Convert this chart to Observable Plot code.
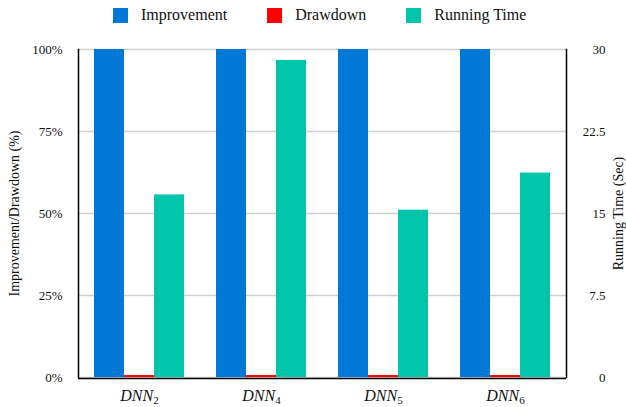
<!DOCTYPE html>
<html><head><meta charset="utf-8">
<script src="https://cdn.jsdelivr.net/npm/d3@7"></script>
<script src="https://cdn.jsdelivr.net/npm/@observablehq/plot@0.6"></script>
<style>
body{margin:0;background:#fff;font-family:"Liberation Serif","Times New Roman",serif;}
#legend{position:relative;height:30px;display:flex;align-items:center;padding-left:113px;box-sizing:border-box;font-size:16px;color:#111;}
#legend .item{display:flex;align-items:center;margin-right:40px;}
#legend .sw{width:15px;height:15px;margin-right:13px;}
svg{font-family:"Liberation Serif","Times New Roman",serif !important;}
svg g[aria-label="y-axis label"] text{font-size:14px;}
</style></head><body>
<div id="legend"></div><div id="chart"></div>
<script>
const models = ["DNN2","DNN4","DNN5","DNN6"];
const series = ["Improvement","Drawdown","Running Time"];
const colors = ["#0079d6","#ff0000","#00c5ab"];
const improvement = [100,100,100,100];
const drawdown = [0.6,0.6,0.6,0.6];
const runningTime = [16.7,29.0,15.3,18.7];
const leftTicks = [0,25,50,75,100];
const rightTicks = [0,7.5,15,22.5,30];
const rightMax = 30;
const serifFont = '"Liberation Serif","Times New Roman",serif';

const rows = models.flatMap((m,i)=>[
  {model:m, series:"Improvement", value: improvement[i]/100},
  {model:m, series:"Drawdown", value: drawdown[i]/100},
  {model:m, series:"Running Time", value: runningTime[i]/rightMax}
]);

const legend = d3.select("#legend");
series.forEach((s,i)=>{
  const it = legend.append("div").attr("class","item");
  it.append("div").attr("class","sw").style("background",colors[i]);
  it.append("span").text(s);
});

const chart = Plot.plot({
  width:626, height:377,
  marginTop:19, marginBottom:30, marginLeft:76, marginRight:59,
  style:{fontFamily:serifFont, fontSize:"13px", color:"#111", background:"#fff"},
  fx:{domain:models, padding:0, label:null},
  x:{domain:series, paddingInner:0, paddingOuter:0.5, axis:null},
  y:{domain:[0,1], axis:null},
  color:{domain:series, range:colors},
  marks:[
    Plot.gridY(leftTicks.map(t=>t/100), {stroke:"#d0d0d0", strokeOpacity:1, strokeWidth:1.5}),
    Plot.barY(rows, {fx:"model", x:"series", y:"value", fill:"series"}),
    Plot.ruleY([0], {stroke:"#000", strokeWidth:1.5, dy:1}),
    Plot.frame({anchor:"left", facet:"super", stroke:"#000", strokeWidth:1.5}),
    Plot.frame({anchor:"right", facet:"super", stroke:"#000", strokeWidth:1.5}),
    Plot.axisY(leftTicks.map(t=>t/100), {anchor:"left", tickSize:0, tickPadding:16,
      tickFormat:d=>Math.round(d*100)+"%", label:"Improvement/Drawdown (%)",
      labelAnchor:"center", labelOffset:69, labelArrow:"none"}),
    Plot.axisY(rightTicks.map(t=>t/rightMax), {anchor:"right", tickSize:0, tickPadding:39, textAnchor:"end",
      tickFormat:d=>String(+(d*rightMax).toFixed(2)), label:"Running Time (Sec)",
      labelAnchor:"center", labelOffset:56, labelArrow:"none"}),
    Plot.axisFx({anchor:"bottom", tickSize:0, tickPadding:12, fontSize:16, label:null})
  ]
});
document.getElementById("chart").appendChild(chart);

d3.select(chart).selectAll('g[aria-label="fx-axis tick label"] text').each(function(){
  const t = d3.select(this);
  const s = t.text();
  const base = s.replace(/\d+$/,""), sub = s.slice(base.length);
  t.text("");
  t.append("tspan").attr("font-style","italic").text(base);
  t.append("tspan").attr("font-size","11px").attr("dy","3").text(sub);
});
</script>
</body></html>
